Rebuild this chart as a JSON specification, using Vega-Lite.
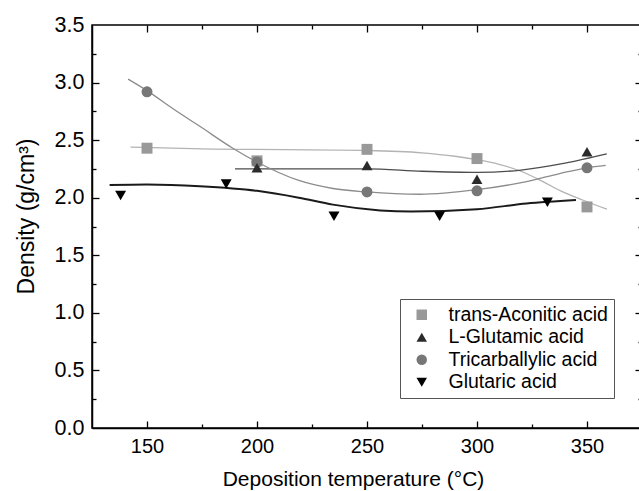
{
  "$schema": "https://vega.github.io/schema/vega-lite/v6.json",
  "width": 550,
  "height": 403,
  "autosize": "none",
  "padding": {"left": 92, "top": 25, "right": 0, "bottom": 63},
  "background": "white",
  "config": {
    "view": {"stroke": "black", "strokeWidth": 1.5},
    "font": "Liberation Sans",
    "axis": {"grid": false, "labelFont": "Liberation Sans", "titleFont": "Liberation Sans", "labelColor": "black", "titleColor": "black", "tickColor": "black", "domainColor": "black"}
  },
  "datasets": {
    "pts": [
      {"series": "trans-Aconitic acid", "T": 150, "density": 2.43},
      {"series": "trans-Aconitic acid", "T": 200, "density": 2.32},
      {"series": "trans-Aconitic acid", "T": 250, "density": 2.42},
      {"series": "trans-Aconitic acid", "T": 300, "density": 2.34},
      {"series": "trans-Aconitic acid", "T": 350, "density": 1.92},
      {"series": "Tricarballylic acid", "T": 150, "density": 2.92},
      {"series": "Tricarballylic acid", "T": 200, "density": 2.31},
      {"series": "Tricarballylic acid", "T": 250, "density": 2.05},
      {"series": "Tricarballylic acid", "T": 300, "density": 2.06},
      {"series": "Tricarballylic acid", "T": 350, "density": 2.26},
      {"series": "L-Glutamic acid", "T": 200, "density": 2.26},
      {"series": "L-Glutamic acid", "T": 250, "density": 2.28},
      {"series": "L-Glutamic acid", "T": 300, "density": 2.16},
      {"series": "L-Glutamic acid", "T": 350, "density": 2.40},
      {"series": "Glutaric acid", "T": 138, "density": 2.02},
      {"series": "Glutaric acid", "T": 186, "density": 2.12},
      {"series": "Glutaric acid", "T": 235, "density": 1.84},
      {"series": "Glutaric acid", "T": 283, "density": 1.84},
      {"series": "Glutaric acid", "T": 332, "density": 1.96}
    ],
    "curve": [
      {"fit": "trans-Aconitic acid", "T": 142.5, "density": 2.44},
      {"fit": "trans-Aconitic acid", "T": 175, "density": 2.425},
      {"fit": "trans-Aconitic acid", "T": 250, "density": 2.41},
      {"fit": "trans-Aconitic acid", "T": 275, "density": 2.39},
      {"fit": "trans-Aconitic acid", "T": 290, "density": 2.36},
      {"fit": "trans-Aconitic acid", "T": 300, "density": 2.33},
      {"fit": "trans-Aconitic acid", "T": 310, "density": 2.29},
      {"fit": "trans-Aconitic acid", "T": 320, "density": 2.23},
      {"fit": "trans-Aconitic acid", "T": 330, "density": 2.14},
      {"fit": "trans-Aconitic acid", "T": 338, "density": 2.06},
      {"fit": "trans-Aconitic acid", "T": 348, "density": 1.98},
      {"fit": "trans-Aconitic acid", "T": 359, "density": 1.90},
      {"fit": "L-Glutamic acid", "T": 190, "density": 2.25},
      {"fit": "L-Glutamic acid", "T": 250, "density": 2.25},
      {"fit": "L-Glutamic acid", "T": 275, "density": 2.23},
      {"fit": "L-Glutamic acid", "T": 300, "density": 2.22},
      {"fit": "L-Glutamic acid", "T": 320, "density": 2.24},
      {"fit": "L-Glutamic acid", "T": 340, "density": 2.30},
      {"fit": "L-Glutamic acid", "T": 359, "density": 2.38},
      {"fit": "Tricarballylic acid", "T": 141.4, "density": 3.03},
      {"fit": "Tricarballylic acid", "T": 150, "density": 2.93},
      {"fit": "Tricarballylic acid", "T": 162, "density": 2.77},
      {"fit": "Tricarballylic acid", "T": 174, "density": 2.62},
      {"fit": "Tricarballylic acid", "T": 189, "density": 2.43},
      {"fit": "Tricarballylic acid", "T": 200, "density": 2.31},
      {"fit": "Tricarballylic acid", "T": 219, "density": 2.15},
      {"fit": "Tricarballylic acid", "T": 234.5, "density": 2.08},
      {"fit": "Tricarballylic acid", "T": 250, "density": 2.05},
      {"fit": "Tricarballylic acid", "T": 274, "density": 2.03},
      {"fit": "Tricarballylic acid", "T": 300, "density": 2.07},
      {"fit": "Tricarballylic acid", "T": 322.5, "density": 2.14},
      {"fit": "Tricarballylic acid", "T": 337.6, "density": 2.21},
      {"fit": "Tricarballylic acid", "T": 350, "density": 2.26},
      {"fit": "Tricarballylic acid", "T": 358.5, "density": 2.28},
      {"fit": "Glutaric acid", "T": 133, "density": 2.11},
      {"fit": "Glutaric acid", "T": 150, "density": 2.115},
      {"fit": "Glutaric acid", "T": 174, "density": 2.10},
      {"fit": "Glutaric acid", "T": 200, "density": 2.06},
      {"fit": "Glutaric acid", "T": 219, "density": 2.00},
      {"fit": "Glutaric acid", "T": 234.5, "density": 1.94},
      {"fit": "Glutaric acid", "T": 256, "density": 1.89},
      {"fit": "Glutaric acid", "T": 270, "density": 1.88},
      {"fit": "Glutaric acid", "T": 300, "density": 1.90},
      {"fit": "Glutaric acid", "T": 322.5, "density": 1.95},
      {"fit": "Glutaric acid", "T": 345, "density": 1.98}
    ]
  },
  "resolve": {"axis": {"x": "independent", "y": "independent"}},
  "layer": [
    {
      "data": {"name": "curve"},
      "mark": {"type": "line", "interpolate": "monotone"},
      "encoding": {
        "x": {"field": "T", "type": "quantitative", "scale": {"domain": [125, 375], "nice": false, "zero": false},
          "axis": {"orient": "bottom", "values": [150, 200, 250, 300, 350], "ticks": false, "domainWidth": 1.5, "labelFontSize": 20, "labelPadding": 8, "title": "Deposition temperature (°C)", "titleFontSize": 21, "titleFontWeight": "normal", "titleX": 261, "titleY": 40, "titleBaseline": "top"}},
        "y": {"field": "density", "type": "quantitative", "scale": {"domain": [0, 3.5], "nice": false, "zero": false},
          "axis": {"orient": "left", "values": [0, 0.5, 1, 1.5, 2, 2.5, 3, 3.5], "format": ".1f", "ticks": false, "domainWidth": 1.5, "labelFontSize": 21.5, "labelPadding": 8, "title": "Density (g/cm³)", "titleFontSize": 23, "titleFontWeight": "normal", "titleX": -59, "titleY": 191, "titleBaseline": "alphabetic", "titleAngle": 270}},
        "stroke": {"field": "fit", "type": "nominal", "legend": null,
          "scale": {"domain": ["Glutaric acid", "Tricarballylic acid", "L-Glutamic acid", "trans-Aconitic acid"], "range": ["#1a1a1a", "#8c8c8c", "#4d4d4d", "#b3b3b3"]}},
        "strokeWidth": {"field": "fit", "type": "nominal", "legend": null,
          "scale": {"type": "ordinal", "domain": ["Glutaric acid", "Tricarballylic acid", "L-Glutamic acid", "trans-Aconitic acid"], "range": [2, 1.3, 1.3, 1.3]}}
      }
    },
    {
      "data": {"name": "pts"},
      "mark": {"type": "point", "filled": true, "opacity": 1, "size": 120},
      "encoding": {
        "x": {"field": "T", "type": "quantitative", "axis": null},
        "y": {"field": "density", "type": "quantitative", "axis": null},
        "color": {"field": "series", "type": "nominal",
          "scale": {"domain": ["trans-Aconitic acid", "L-Glutamic acid", "Tricarballylic acid", "Glutaric acid"], "range": ["#999999", "#2b2b2b", "#777777", "#000000"]},
          "legend": {"title": null, "orient": "none", "legendX": 308, "legendY": 274, "strokeColor": "#555555", "padding": 6, "labelFontSize": 19.5, "labelFont": "Liberation Sans", "labelColor": "black", "symbolSize": 110, "symbolOffset": 6, "labelOffset": 17, "rowPadding": 1.5, "symbolStrokeWidth": 0}},
        "shape": {"field": "series", "type": "nominal",
          "scale": {"domain": ["trans-Aconitic acid", "L-Glutamic acid", "Tricarballylic acid", "Glutaric acid"], "range": ["square", "triangle-up", "circle", "triangle-down"]},
          "legend": {"title": null, "orient": "none", "legendX": 308, "legendY": 274}}
      }
    },
    {
      "data": {"name": "pts"},
      "mark": {"type": "point", "opacity": 0},
      "encoding": {
        "x": {"field": "T", "type": "quantitative", "axis": {"orient": "bottom", "values": [150, 200, 250, 300, 350], "labels": false, "domain": false, "title": null, "tickSize": -7, "tickWidth": 1.3}},
        "y": {"field": "density", "type": "quantitative", "axis": {"orient": "left", "values": [0.5, 1, 1.5, 2, 2.5, 3], "labels": false, "domain": false, "title": null, "tickSize": -7, "tickWidth": 1.3}}
      }
    },
    {
      "data": {"name": "pts"},
      "mark": {"type": "point", "opacity": 0},
      "encoding": {
        "x": {"field": "T", "type": "quantitative", "axis": {"orient": "bottom", "values": [175, 225, 275, 325], "labels": false, "domain": false, "title": null, "tickSize": -4, "tickWidth": 1.3}},
        "y": {"field": "density", "type": "quantitative", "axis": {"orient": "left", "values": [0.25, 0.75, 1.25, 1.75, 2.25, 2.75, 3.25], "labels": false, "domain": false, "title": null, "tickSize": -4, "tickWidth": 1.3}}
      }
    },
    {
      "data": {"name": "pts"},
      "mark": {"type": "point", "opacity": 0},
      "encoding": {
        "x": {"field": "T", "type": "quantitative", "axis": {"orient": "top", "values": [150, 200, 250, 300, 350], "labels": false, "domain": false, "title": null, "tickSize": -7, "tickWidth": 1.3}},
        "y": {"field": "density", "type": "quantitative", "axis": {"orient": "right", "values": [0.5, 1, 1.5, 2, 2.5, 3], "labels": false, "domain": false, "title": null, "tickSize": -7, "tickWidth": 1.3}}
      }
    },
    {
      "data": {"name": "pts"},
      "mark": {"type": "point", "opacity": 0},
      "encoding": {
        "x": {"field": "T", "type": "quantitative", "axis": {"orient": "top", "values": [175, 225, 275, 325], "labels": false, "domain": false, "title": null, "tickSize": -4, "tickWidth": 1.3}},
        "y": {"field": "density", "type": "quantitative", "axis": {"orient": "right", "values": [0.25, 0.75, 1.25, 1.75, 2.25, 2.75, 3.25], "labels": false, "domain": false, "title": null, "tickSize": -4, "tickWidth": 1.3}}
      }
    }
  ]
}
